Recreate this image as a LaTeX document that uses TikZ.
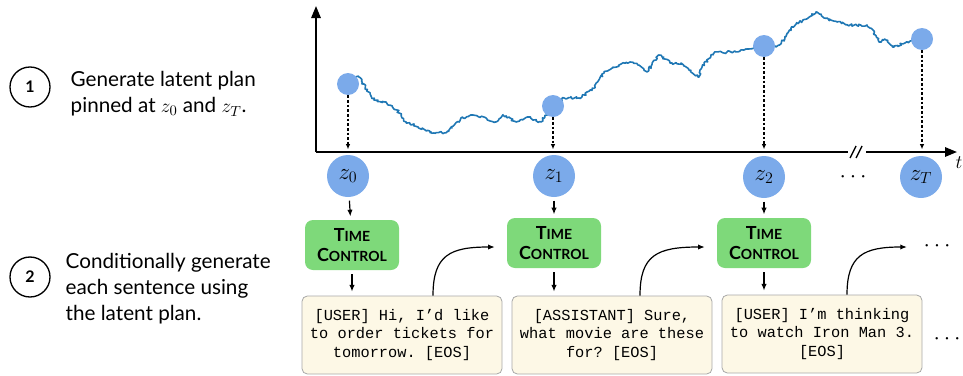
\documentclass[tikz,border=0pt]{standalone}
\usepackage{fontspec}
\setmainfont{Lato}
\setmonofont{Liberation Mono}
\usetikzlibrary{
    arrows.meta,
    calc,
    decorations.pathmorphing, % for the wiggly latent path
    positioning
}
\usepackage{amsmath, amssymb}

\definecolor{latentblue}{HTML}{7BAAEA}
\definecolor{walkblue}{HTML}{1F77B4}
\definecolor{controlgreen}{HTML}{7ED97A}
\definecolor{uttcream}{HTML}{FDF8E6}
\definecolor{uttgray}{HTML}{A8A8A8}

\tikzset{
    latent/.style={shape=circle, fill=latentblue, minimum size=31.5pt, inner sep=0pt,
        font=\fontsize{17}{17}\selectfont},
    pinned/.style={shape=circle, fill=latentblue, minimum size=16.5pt, inner sep=0pt},
    control/.style={shape=rectangle, rounded corners=6pt, fill=controlgreen,
        minimum width=70.5pt, minimum height=37.5pt, align=center,
        font=\bfseries\fontsize{13.5}{15.5}\selectfont},
    utterance/.style={shape=rectangle, rounded corners=4pt, draw=uttgray, fill=uttcream,
        line width=0.6pt, minimum width=150pt, minimum height=58.5pt, align=center,
        font=\ttfamily\fontsize{11.5}{13.75}\selectfont},
    stepnum/.style={shape=circle, draw, line width=1pt, minimum size=30pt, inner sep=0pt,
        font=\bfseries\fontsize{12}{12}\selectfont},
    steptext/.style={anchor=west, align=left, font=\fontsize{15.5}{19.5}\selectfont},
    flow/.style={-{Latex[length=5pt,width=4pt]}, line width=0.9pt},
    drop/.style={-{Latex[length=4pt,width=3.5pt]}, line width=0.9pt, dash pattern=on 2pt off 1.5pt},
    axis/.style={line width=1.5pt},
    more/.style={font=\fontsize{18}{18}\selectfont}
}
\newcommand{\tcname}{T{\fontsize{10.5}{15.5}\selectfont IME}\\C{\fontsize{10.5}{15.5}\selectfont ONTROL}}

\begin{document}
\begin{tikzpicture}[x=0.75pt, y=-0.75pt]
    \useasboundingbox (0,0) rectangle (963,375);

    % steps on the left
    \node[stepnum] (s1) at (30,87) {1};
    \node[steptext] (t1) at (66,94) {Generate latent plan\\pinned at $z_0$ and $z_T$.};
    \node[stepnum] (s2) at (30,277) {2};
    \node[steptext] (t2) at (61,289) {Conditionally generate\\each sentence using\\the latent plan.};

    % axes with break
    \coordinate (o) at (316,152);
    \draw[axis, -{Triangle[length=9pt,width=7pt]}] (o) -- (316,6);
    \draw[axis] (o) -- (848,152);
    \draw[axis, -{Triangle[length=9pt,width=7pt]}] (866,152) -- (957,152);
    \draw[line width=1pt] (850,158) -- (856,146) (856,158) -- (862,146);
    \node (tlab) at (959,163) {\fontsize{14}{14}\selectfont$t$};

    % latent path
    \pgfmathsetseed{42}
    \draw[walkblue, line width=1.2pt, line join=round, decorate,
          decoration={random steps, segment length=1.2pt, amplitude=1pt}]
        plot[sharp plot] coordinates {(350,80) (359,77) (367,90) (374,100) (385,102) (397,110)
        (406,122) (418,127) (431,132) (444,133) (452,128) (461,118) (473,115) (486,118)
        (495,122) (503,115) (516,122) (528,117) (541,122) (553,106) (564,98) (579,98)
        (592,90) (604,73) (613,67) (630,62) (638,65) (647,72) (659,55) (672,63) (681,63)
        (689,70) (698,77) (702,67) (714,53) (731,52) (744,50) (764,46) (776,47) (784,40)
        (791,28) (803,20) (816,12) (824,18) (837,22) (850,25) (867,25) (873,30) (879,42)
        (886,40) (894,47) (905,43) (922,39)};

    \path (348,84) node [pinned] (p0) {}
          (553,106) node [pinned] (p1) {}
          (764,46) node [pinned] (p2) {}
          (922,39) node [pinned] (pT) {};
    \foreach \p in {p0,p1,p2,pT}
        \draw[drop, shorten >=2pt] (\p) -- (\p |- o);

    % latent states
    \path (348,176) node [latent] (z0) {$z_0$}
          (554,176) node [latent] (z1) {$z_1$}
          (764,177) node [latent] (z2) {$z_2$}
          (921,177) node [latent] (zT) {$z_T$}
          (855,177) node [more] (zdots) {$\cdots$};

    % time control
    \path (352,245) node [control] (tc0) {\tcname}
          (554,243) node [control] (tc1) {\tcname}
          (764,243) node [control] (tc2) {\tcname};

    % sentences
    \path (402,335) node [utterance] (u0) {[USER] Hi, I’d like\\to order tickets for\\tomorrow. [EOS]}
          (612,335) node [utterance] (u1) {[ASSISTANT] Sure,\\what movie are these\\for? [EOS]}
          (822,334) node [utterance] (u2) {[USER] I’m thinking\\to watch Iron Man 3.\\{}[EOS]};
    \path (939,246) node [more] (udots) {$\cdots$}
          (949,339) node [more] (edots) {$\cdots$};

    \foreach \i in {0,1,2} {
        \draw[flow, shorten <=2.5pt, shorten >=2.5pt] (z\i) -- (tc\i);
        \draw[flow, shorten <=3pt, shorten >=3pt] (tc\i) -- (tc\i |- u\i.north);
    }
    \draw[flow] ($(u0.north)+(31,0)$) .. controls (433,255) and (450,247) .. ([shift={(-12,4)}]tc1.west);
    \draw[flow] ($(u1.north)+(28,0)$) .. controls (640,255) and (657,247) .. ([shift={(-12,4)}]tc2.west);
    \draw[flow] ($(u2.north)+(25,0)$) .. controls (847,255) and (864,247) .. ([shift={(-12,1)}]udots.west);
\end{tikzpicture}
\end{document}
